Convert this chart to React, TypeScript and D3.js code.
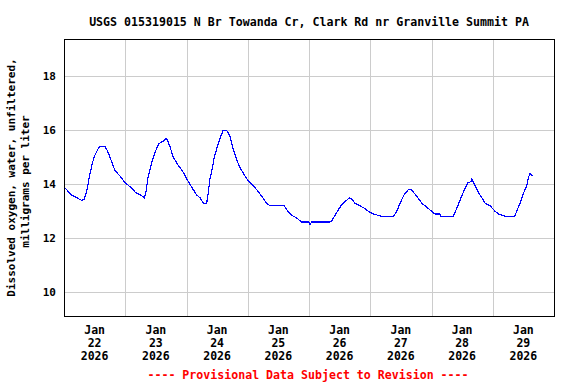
import React from 'react'
import * as d3 from 'd3'

// hours after Jan 22 2026 00:00
const hours = [
  0, 1.5, 3, 5, 7, 8, 9, 10, 11, 12, 13, 14, 16, 17, 18, 19, 20, 22, 24,
  26, 28, 30, 31.5, 32, 33, 34.4, 35.7, 37.2, 38.9, 40.2, 41.5, 42.8, 44.8, 46.7, 48.7,
  50, 52, 53.3, 54.6, 55.9, 56.5, 57.1, 57.9, 58.9, 59.8, 61.1, 62.4, 63.7, 65, 66.3, 67.7,
  69, 70.3, 71.6, 73.6, 75.5, 77.5, 79.4, 80.7, 86.3, 87.3, 89.2, 91.2, 93.1, 96, 96.4, 97,
  104.2, 104.9, 106.2, 107.5, 108.8, 110.1, 111.8, 112.7, 114, 116, 117.9, 119.2, 121.2,
  124.9, 129, 130.4, 131.7, 133.2, 134.9, 136.2, 138.2, 140.2, 142.1, 143.4, 144.7, 145.4,
  147.3, 147.7, 152.5, 153.2, 154.5, 155.8, 156.9, 158.2, 159.5, 159.8, 160.2, 161.1, 162.4,
  163.7, 165, 167, 168.9, 170.2, 173.5, 176.5, 177.4, 178.7, 180, 181.3, 182, 182.6, 183.5,
]

// dissolved oxygen, mg/L
const oxygen = [
  13.9, 13.75, 13.6, 13.5, 13.4, 13.45, 13.8, 14.3, 14.75, 15.05, 15.25, 15.4, 15.4, 15.25, 15.0, 14.75, 14.5, 14.3, 14.05,
  13.9, 13.7, 13.6, 13.5, 13.65, 14.3, 14.8, 15.2, 15.5, 15.6, 15.7, 15.4, 15.0, 14.7, 14.45, 14.1,
  13.9, 13.6, 13.5, 13.3, 13.3, 13.65, 14.15, 14.5, 15.0, 15.3, 15.7, 16.0, 16.0, 15.8, 15.3, 14.9,
  14.6, 14.4, 14.2, 14.0, 13.8, 13.55, 13.3, 13.2, 13.2, 13.05, 12.85, 12.75, 12.6, 12.6, 12.5, 12.6,
  12.6, 12.65, 12.85, 13.05, 13.25, 13.35, 13.5, 13.45, 13.3, 13.2, 13.1, 13.0, 12.9,
  12.8, 12.8, 13.0, 13.3, 13.6, 13.8, 13.8, 13.55, 13.3, 13.15, 13.05, 12.95, 12.9,
  12.9, 12.8, 12.8, 12.95, 13.25, 13.55, 13.8, 14.05, 14.1, 14.2, 14.1, 13.95, 13.7,
  13.5, 13.3, 13.2, 13.0, 12.9, 12.8, 12.8, 13.0, 13.3, 13.65, 13.95, 14.25, 14.4, 14.3,
]

const dayLabels = ['22', '23', '24', '25', '26', '27', '28', '29']
const yTicks = [10, 12, 14, 16, 18]

const title = 'USGS 015319015 N Br Towanda Cr, Clark Rd nr Granville Summit PA'
const yLabel1 = 'Dissolved oxygen, water, unfiltered,'
const yLabel2 = 'milligrams per liter'
const footer = '---- Provisional Data Subject to Revision ----'

const start = new Date(2026, 0, 22, 0, 0)
const at = (h: number) => new Date(start.getTime() + h * 3600e3)

export default function App() {
  const width = 576
  const height = 384
  const left = 64, right = 554, top = 39, bottom = 316
  const font = '"DejaVu Sans Mono", monospace'

  const x = d3.scaleTime().domain([at(0), at(192)]).range([left, right])
  const y = d3.scaleLinear().domain([9.12, 19.38]).range([bottom, top])

  const midnights = d3.timeDay.range(at(1), at(192))
  const points = hours.map((h, i) => [x(at(h)), y(oxygen[i])] as [number, number])
  const path = d3.line()(points) || ''

  return (
    <svg width={width} height={height} style={{ position: 'absolute', left: 0, top: 0, background: '#fff' }}>
      <text x={(left + right) / 2} y={25.5} textAnchor="middle" fontFamily={font} fontWeight="bold" fontSize={11.6}>
        {title}
      </text>

      {/* grid */}
      {midnights.map((d, i) => (
        <line key={'v' + i} x1={Math.round(x(d)) + 0.5} x2={Math.round(x(d)) + 0.5} y1={top} y2={bottom} stroke="#cccccc" />
      ))}
      {yTicks.map(t => (
        <line key={'h' + t} x1={left} x2={right} y1={Math.round(y(t)) + 0.5} y2={Math.round(y(t)) + 0.5} stroke="#cccccc" />
      ))}

      <path d={path} fill="none" stroke="#0000ff" strokeWidth={1.2} shapeRendering="crispEdges" />

      <rect x={left + 0.5} y={top + 0.5} width={right - left} height={bottom - top} fill="none" stroke="#000" />

      {/* y axis */}
      {yTicks.map(t => (
        <text key={'yl' + t} x={56} y={y(t) + 4} textAnchor="end" fontFamily={font} fontWeight="bold" fontSize={11}>
          {t}
        </text>
      ))}
      <text transform={`translate(15,${(top + bottom) / 2}) rotate(-90)`} textAnchor="middle" fontFamily={font} fontWeight="bold" fontSize={11}>
        {yLabel1}
      </text>
      <text transform={`translate(28.5,${(top + bottom) / 2 + 4}) rotate(-90)`} textAnchor="middle" fontFamily={font} fontWeight="bold" fontSize={11}>
        {yLabel2}
      </text>

      {/* x axis */}
      {dayLabels.map((d, i) => {
        const cx = x(at(i * 24 + 12))
        return (
          <text key={'xl' + d} textAnchor="middle" fontFamily={font} fontWeight="bold" fontSize={11.5}>
            <tspan x={cx} y={334}>Jan</tspan>
            <tspan x={cx} y={347}>{d}</tspan>
            <tspan x={cx} y={360}>2026</tspan>
          </text>
        )
      })}

      <text x={308} y={379} textAnchor="middle" fontFamily={font} fontWeight="bold" fontSize={11.6} fill="#ff0000">
        {footer}
      </text>
    </svg>
  )
}
